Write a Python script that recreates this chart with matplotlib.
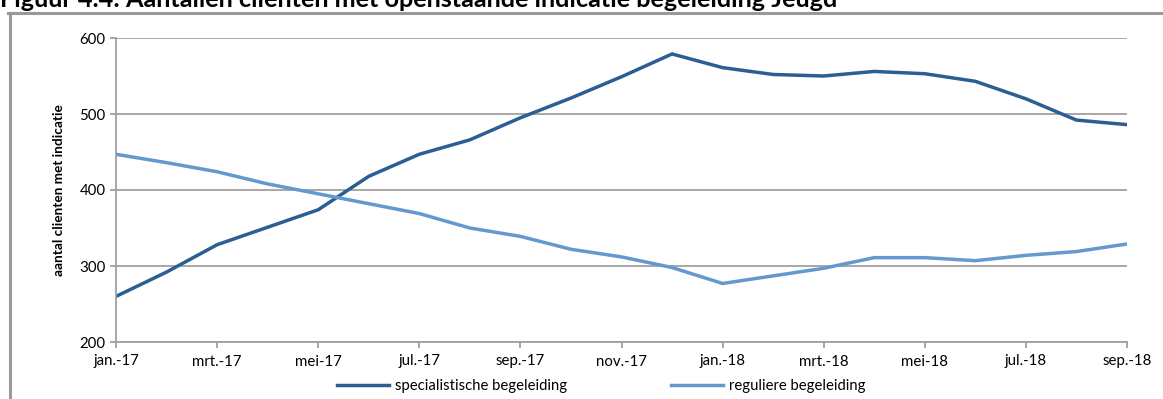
import matplotlib.pyplot as plt
from matplotlib.lines import Line2D

plt.rcParams['font.family'] = ['Lato', 'DejaVu Sans']

maanden = ['jan.-17', 'feb.-17', 'mrt.-17', 'apr.-17', 'mei-17', 'jun.-17', 'jul.-17',
           'aug.-17', 'sep.-17', 'okt.-17', 'nov.-17', 'dec.-17', 'jan.-18', 'feb.-18',
           'mrt.-18', 'apr.-18', 'mei-18', 'jun.-18', 'jul.-18', 'aug.-18', 'sep.-18']
specialistisch = [260, 292, 328, 351, 374, 418, 447, 466, 495, 521, 549, 579,
                  561, 552, 550, 556, 553, 543, 520, 492, 486]
regulier = [447, 436, 424, 408, 395, 382, 369, 350, 339, 322, 312, 298,
            277, 287, 297, 311, 311, 307, 314, 319, 329]

W, H = 1163, 399
fig = plt.figure(figsize=(W / 100, H / 100), dpi=100)
ax = fig.add_axes([116 / W, 1 - 342 / H, (1127 - 116) / W, (342 - 38) / H])

x = list(range(len(maanden)))
ax.plot(x, specialistisch, color='#2b5f94', lw=2.5, label='specialistische begeleiding',
        solid_joinstyle='miter')
ax.plot(x, regulier, color='#6399cd', lw=2.5, label='reguliere begeleiding',
        solid_joinstyle='miter')

ax.set_xlim(0, len(maanden) - 1)
ax.set_ylim(200, 600)
ax.set_yticks([200, 300, 400, 500, 600])
ax.set_xticks(x[::2])
ax.set_xticklabels(maanden[::2])
ax.grid(axis='y', color='#a0a0a0', lw=1.3)
ax.set_axisbelow(True)
for s in ['top', 'right']:
    ax.spines[s].set_visible(False)
for s in ['left', 'bottom']:
    ax.spines[s].set_color('#a0a0a0')
    ax.spines[s].set_linewidth(1.3)
ax.tick_params(colors='#a0a0a0', labelcolor='black', labelsize=10.8, length=4, width=1.3)
ax.tick_params(axis='x', pad=5)
ax.set_ylabel('aantal clienten met indicatie', fontsize=9.8, fontweight='bold', labelpad=10)

fig.legend(loc='center', bbox_to_anchor=(601 / W, 1 - 386 / H), ncol=2, frameon=False,
           fontsize=10.7, handlelength=3.5, handletextpad=0.4, columnspacing=7.0,
           borderaxespad=0)

# kader en titel
fig.add_artist(Line2D([8 / W, 1], [1 - 13 / H, 1 - 13 / H], color='#999999', lw=2.2))
fig.add_artist(Line2D([9.5 / W, 9.5 / W], [0, 1 - 13 / H], color='#999999', lw=2.2))
fig.text(0.0, 1 - 7 / H, 'Figuur 4.4: Aantallen cliënten met openstaande indicatie begeleiding Jeugd',
         fontsize=18.2, fontweight='bold', va='baseline', ha='left')

plt.savefig('out.png', dpi=100)
